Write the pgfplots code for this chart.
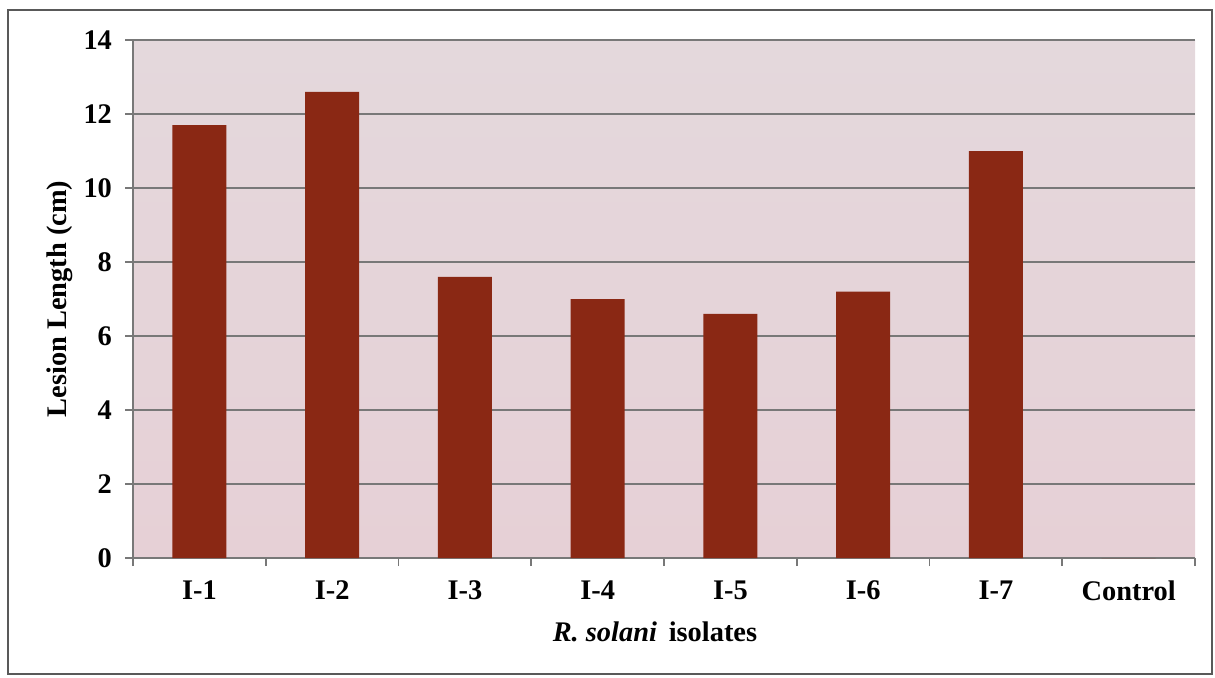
\documentclass[border=0pt]{standalone}
\usepackage{pgfplots}
\pgfplotsset{compat=1.18}
\usepackage{fontspec}
\setmainfont{Liberation Serif}

\definecolor{barred}{RGB}{138,40,20}
\definecolor{bgtop}{RGB}{228,216,220}
\definecolor{bgbot}{RGB}{230,208,214}
\definecolor{gridgray}{RGB}{120,120,120}

\newcommand{\labfont}{\fontsize{14.2}{17}\selectfont\bfseries}

\begin{document}
\begin{tikzpicture}
  % page area and outer frame
  \useasboundingbox (0pt,0pt) rectangle (607.5pt,338.5pt);
  \draw[line width=1pt, gray!70!black] (4pt,1.5pt) rectangle (606pt,333.5pt);

  \begin{axis}[
    at={(66.5pt,59.5pt)}, anchor=south west,
    scale only axis,
    width=531pt, height=259pt,
    ymin=0, ymax=14,
    ytick={0,2,...,14},
    xmin=-0.5, xmax=7.5,
    xtick={-0.5,0.5,...,7.5},
    xticklabels={I-1,I-2,I-3,I-4,I-5,I-6,I-7,Control},
    x tick label as interval,
    axis lines=left,
    axis line style={-, draw=gridgray, line width=0.8pt},
    tick style={draw=gridgray, line width=0.8pt},
    tick align=outside,
    major tick length=4pt,
    ymajorgrids,
    grid style={draw=gridgray, line width=0.8pt},
    axis background/.style={shade, top color=bgtop, bottom color=bgbot},
    font=\labfont,
    /pgf/number format/assume math mode=true,
    yticklabel style={font=\labfont, xshift=-3pt},
    xticklabel style={font=\labfont, yshift=-4pt},
    every axis y label/.style={at={(rel axis cs:-0.0687,0.5)}, rotate=90, anchor=center},
    every axis x label/.style={at={(rel axis cs:0.4915,-0.1429)}, anchor=center},
    ylabel={Lesion Length (cm)},
    xlabel={\textit{R. solani}\, isolates},
    ybar, bar width=27pt,
  ]
    \addplot[fill=barred, draw=none] coordinates {
      (0,11.7) (1,12.6) (2,7.6) (3,7.0) (4,6.6) (5,7.2) (6,11.0) (7,0)
    };
  \end{axis}
\end{tikzpicture}
\end{document}
